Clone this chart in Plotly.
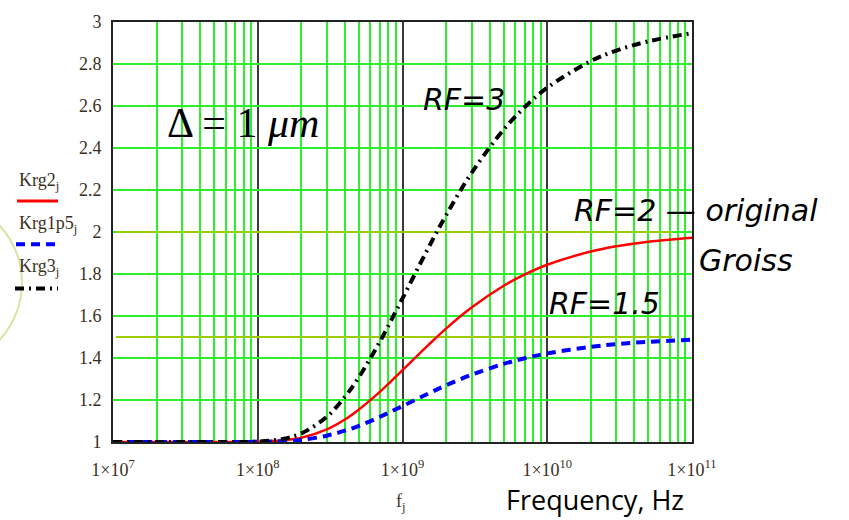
import plotly.graph_objects as go

# ---- data ----
freq = [1e7, 2e7, 5e7, 1e8, 1.5e8, 2e8, 3e8, 4e8, 5e8, 7e8, 1e9, 1.5e9, 2e9,
        3e9, 5e9, 7e9, 1e10, 2e10, 3e10, 5e10, 1e11]
krg2 = [1.0, 1.0, 1.0, 1.001, 1.008, 1.02, 1.06, 1.107, 1.155, 1.24, 1.342, 1.46,
        1.54, 1.64, 1.744, 1.798, 1.844, 1.907, 1.932, 1.954, 1.973]
krg1p5 = [1.0, 1.0, 1.0, 1.001, 1.004, 1.01, 1.03, 1.054, 1.077, 1.12, 1.171, 1.23,
          1.27, 1.32, 1.372, 1.399, 1.422, 1.453, 1.466, 1.477, 1.487]
krg3 = [1.0, 1.0, 1.0, 1.002, 1.015, 1.041, 1.12, 1.215, 1.309, 1.48, 1.684, 1.921,
        2.08, 2.281, 2.488, 2.595, 2.687, 2.814, 2.864, 2.908, 2.947]
ref_x = [1.05e7, 7.3e10]
ref_levels = [2.0, 1.5]
x_tickvals = [1e7, 1e8, 1e9, 1e10, 1e11]
x_ticktext = ["1×10<sup>7</sup>", "1×10<sup>8</sup>", "1×10<sup>9</sup>",
              "1×10<sup>10</sup>", "1×10<sup>11</sup>"]

W, H = 849, 520
L, R, T, B = 113, 692, 15, 442
def px(x):
    return (x - L) / (R - L)
def py(y):
    return (B - y) / (B - T)

SERIF = "Liberation Serif"
SANS = "DejaVu Sans"
GREEN = "#2cf02c"
OLIVE = "#9ccc00"
TXT = "#3b2f22"

fig = go.Figure()
for lv in ref_levels:
    fig.add_trace(go.Scatter(x=ref_x, y=[lv, lv], mode="lines",
                             line=dict(color=OLIVE, width=2), hoverinfo="skip"))
fig.add_trace(go.Scatter(x=freq, y=krg2, mode="lines", line_shape="spline",
                         line=dict(color="#ff0000", width=2.5)))
fig.add_trace(go.Scatter(x=freq, y=krg1p5, mode="lines", line_shape="spline",
                         line=dict(color="#0000ff", width=4, dash="9px,6px")))
fig.add_trace(go.Scatter(x=freq, y=krg3, mode="lines", line_shape="spline",
                         line=dict(color="#000000", width=4, dash="9px,5px,2px,5px")))

fig.update_layout(
    width=W, height=H, showlegend=False,
    margin=dict(l=L, r=W - R, t=T, b=H - B),
    paper_bgcolor="white", plot_bgcolor="white",
    xaxis=dict(type="log", range=[7, 11], tickvals=x_tickvals, ticktext=x_ticktext,
               showgrid=True, gridcolor="#3a3a3a", gridwidth=1.5,
               minor=dict(dtick="D1", showgrid=True, gridcolor=GREEN, gridwidth=1.5, ticks=""),
               showline=True, linecolor="#222", linewidth=2, mirror=True,
               ticks="outside", ticklen=10, tickcolor="rgba(0,0,0,0)",
               tickfont=dict(family=SERIF, size=18, color=TXT),
               zeroline=False),
    yaxis=dict(range=[1, 3], dtick=0.2, showgrid=True, gridcolor=GREEN, gridwidth=1.5,
               showline=True, linecolor="#222", linewidth=2, mirror=True,
               ticks="outside", ticklen=6, tickcolor="rgba(0,0,0,0)",
               tickfont=dict(family=SERIF, size=18, color=TXT), zeroline=False),
)

ann = []
def add(text, x, y, size, family, color="black", xanchor="left"):
    ann.append(dict(text=text, x=px(x), y=py(y), xref="paper", yref="paper",
                    showarrow=False, xanchor=xanchor, yanchor="middle",
                    font=dict(family=family, size=size, color=color)))

add("Δ = 1 <i>μm</i>", 165, 118, 42, SERIF)
add("<i>RF=3</i>", 421, 94, 30, SANS)
add("<i>RF=2 — original</i>", 572, 207, 30, SANS)
add("<i>Groiss</i>", 697, 257, 30, SANS)
add("<i>RF=1.5</i>", 547, 301, 30, SANS)
add("Frequency, Hz", 504, 500, 27, "Open Sans")
add("f<sub>j</sub>", 401, 503, 18, SERIF, TXT, "center")
add("Krg2<sub>j</sub>", 17, 177, 18, SERIF, TXT)
add("Krg1p5<sub>j</sub>", 17, 221, 18, SERIF, TXT)
add("Krg3<sub>j</sub>", 17, 265, 18, SERIF, TXT)
fig.update_layout(annotations=ann)

shapes = [
    dict(type="circle", xref="paper", yref="paper", x0=px(-153), x1=px(22),
         y0=py(367), y1=py(193), line=dict(color="#d5e5a5", width=2)),
    dict(type="line", xref="paper", yref="paper", x0=px(17), x1=px(58), y0=py(197), y1=py(197),
         line=dict(color="#ff0000", width=3)),
    dict(type="line", xref="paper", yref="paper", x0=px(16), x1=px(60), y0=py(241), y1=py(241),
         line=dict(color="#0000ff", width=4, dash="9px,6px")),
    dict(type="line", xref="paper", yref="paper", x0=px(15), x1=px(58), y0=py(286), y1=py(286),
         line=dict(color="#000000", width=4, dash="9px,5px,2px,5px")),
]
fig.update_layout(shapes=shapes)

fig.write_html("out.html")
